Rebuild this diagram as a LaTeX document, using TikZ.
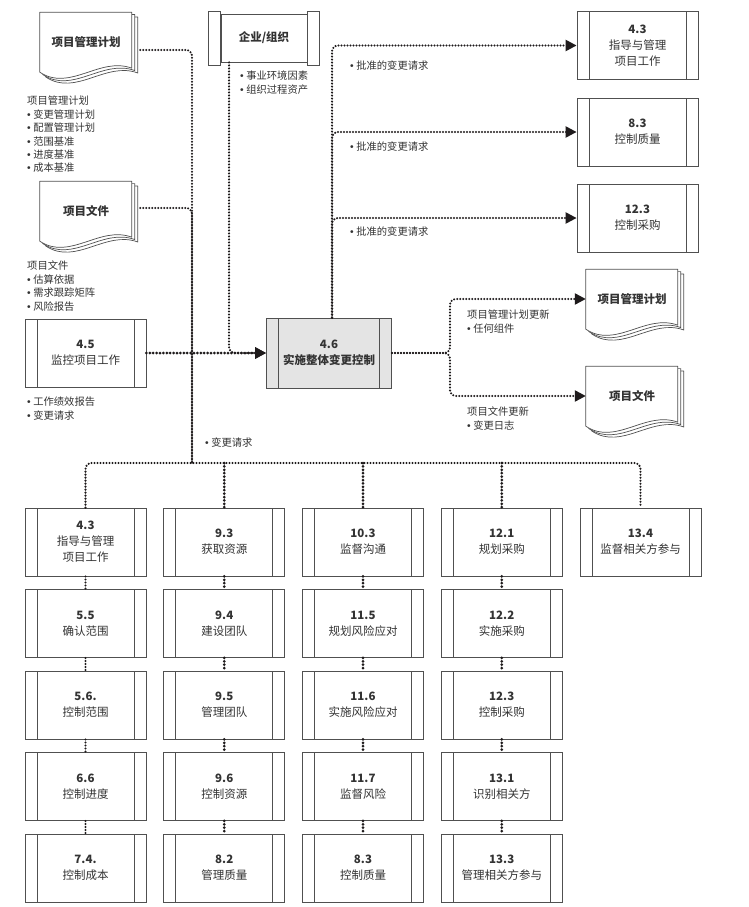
\documentclass[tikz,border=0pt]{standalone}
\usepackage{fontspec}
\setmainfont{Noto Sans CJK SC}
\newfontfamily\latinfont{Liberation Sans}
\usepackage{tikz}
\usetikzlibrary{positioning, arrows.meta, backgrounds}
\definecolor{inkGrey}{RGB}{51,51,51}
\definecolor{lineGrey}{RGB}{80,80,80}
\definecolor{dotBlack}{RGB}{30,26,27}
\definecolor{fillGrey}{RGB}{228,228,228}

% small bullet for the lists
\newcommand{\bul}{{\latinfont •}\hspace{2.5pt}}

% stacked sheets behind a document node
\newcommand{\docsheets}[1]{%
  \begin{scope}[on background layer, shift={(#1.south west)}]
    \foreach \s in {6,3,0}
      \draw[docline, shift={(\s,0.8*\s)}] (0,0) -- (0,-60) -- (92,-60) -- (92,-4)
        .. controls (60,-16) and (30,20) .. (0,0) -- cycle;
  \end{scope}}

\begin{document}
\begin{tikzpicture}[x=1pt, y=-1pt,
  proc/.style={draw=lineGrey, line width=0.8pt, fill=white, minimum width=121pt, minimum height=68pt,
    inner sep=0pt, align=center, text=inkGrey, font=\fontsize{11.5}{16}\selectfont,
    path picture={\draw[lineGrey, line width=0.8pt]
      ([xshift=12pt]path picture bounding box.north west) -- ([xshift=12pt]path picture bounding box.south west)
      ([xshift=-12pt]path picture bounding box.north east) -- ([xshift=-12pt]path picture bounding box.south east);}},
  docnode/.style={minimum width=92pt, minimum height=60pt, inner sep=0pt, text=inkGrey,
    font=\fontsize{11.5}{16}\selectfont\bfseries},
  docline/.style={draw=lineGrey, line width=0.7pt, fill=white, line join=round},
  lbl/.style={anchor=north west, inner sep=0pt, align=left, text=inkGrey, font=\fontsize{10.3}{13.4}\selectfont},
  flow/.style={dotBlack, line width=2.3pt, line cap=round, dash pattern=on 0pt off 3pt},
  boldflow/.style={flow, line width=3pt, dash pattern=on 0pt off 3.4pt},
  arrowed/.style={-{Triangle[length=11pt,width=11pt]}}]

\begin{scope}[on background layer]
  \fill[white] (0,0) rectangle (749,907);
\end{scope}
\useasboundingbox (0,0) rectangle (749,907);

% Inputs
\node[docnode] (pmpIn) at (86,42) {项目管理计划};
\docsheets{pmpIn}
\node[lbl] (lblPmp) at (27,96) {项目管理计划\\\bul 变更管理计划\\\bul 配置管理计划\\\bul 范围基准\\\bul 进度基准\\\bul 成本基准};

\node[docnode] (pdIn) at (86,211) {项目文件};
\docsheets{pdIn}
\node[lbl] (lblPd) at (27,261) {项目文件\\\bul 估算依据\\\bul 需求跟踪矩阵\\\bul 风险报告};

\node[proc] (pmc) at (85.5,353) {\textbf{4.5}\\监控项目工作};
\node[lbl] (lblPmc) at (27,397) {\bul 工作绩效报告\\\bul 变更请求};

\node[draw=lineGrey, line width=0.8pt, minimum width=86pt, minimum height=48pt, text=inkGrey,
  font=\fontsize{11.5}{16}\selectfont\bfseries] (org) at (264,38) {企业/组织};
\draw[lineGrey, line width=0.8pt] ([yshift=2pt]org.north west) rectangle ([xshift=-12pt,yshift=-3pt]org.south west);
\draw[lineGrey, line width=0.8pt] ([yshift=2pt]org.north east) rectangle ([xshift=12pt,yshift=-3pt]org.south east);
\node[lbl] (lblOrg) at (240,71) {\bul 事业环境因素\\\bul 组织过程资产};

% Process
\node[proc, fill=fillGrey, minimum width=125pt, minimum height=70pt, font=\fontsize{11.5}{16}\selectfont\bfseries]
  (icc) at (329,353) {4.6\\实施整体变更控制};

% Outputs
\foreach \name/\y/\num/\txt in {rDirect/45.5/4.3/{指导与管理\\项目工作}, rQuality/132/8.3/控制质量, rProcure/218/12.3/控制采购}
  \node[proc] (\name) at (637.5,\y) {\textbf{\num}\\\txt};
\foreach \y in {61,142,227}
  \node[lbl] (lblAcr\y) at (350,\y) {\bul 批准的变更请求};

\node[docnode] (pmpOut) at (632,299) {项目管理计划};
\docsheets{pmpOut}
\node[lbl] (lblPmpUp) at (467,310) {项目管理计划更新\\\bul 任何组件};

\node[docnode] (pdOut) at (632,396) {项目文件};
\docsheets{pdOut}
\node[lbl] (lblPdUp) at (467,407) {项目文件更新\\\bul 变更日志};

% Related processes
\foreach \c/\r/\num/\txt in {1/1/4.3/{指导与管理\\项目工作}, 1/2/5.5/确认范围, 1/3/5.6./控制范围, 1/4/6.6/控制进度, 1/5/7.4./控制成本,
    2/1/9.3/获取资源, 2/2/9.4/建设团队, 2/3/9.5/管理团队, 2/4/9.6/控制资源, 2/5/8.2/管理质量,
    3/1/10.3/监督沟通, 3/2/11.5/规划风险应对, 3/3/11.6/实施风险应对, 3/4/11.7/监督风险, 3/5/8.3/控制质量,
    4/1/12.1/规划采购, 4/2/12.2/实施采购, 4/3/12.3/控制采购, 4/4/13.1/识别相关方, 4/5/13.3/管理相关方参与,
    5/1/13.4/监督相关方参与}
  \node[proc] (g\c\r) at ({85.5+138.75*(\c-1)}, {542+81.5*(\r-1)}) {\textbf{\num}\\\txt};
\node[lbl] (lblCr) at (205,438) {\bul 变更请求};

% Connectors
\coordinate (bus) at (192,463);
\coordinate (split) at (450,353);
\draw[flow, rounded corners=6pt] ([xshift=8pt,yshift=-8pt]pmpIn.east) -| (bus);
\draw[flow, rounded corners=6pt] ([xshift=8pt,yshift=3pt]pdIn.east) -| (bus);
\draw[flow, arrowed, rounded corners=6pt] ([xshift=-35pt]org.south) |- (icc.west);
\draw[boldflow, arrowed] (pmc) -- (icc);
\foreach \t in {rDirect, rQuality, rProcure}
  \draw[flow, arrowed, rounded corners=6pt] ([xshift=3pt]icc.north) |- (\t.west);
\draw[flow, arrowed, rounded corners=6pt] (icc.east) -- (split) |- (pmpOut.west);
\draw[flow, arrowed, rounded corners=6pt] (icc.east) -- (split) |- (pdOut.west);
\draw[flow, rounded corners=6pt] (g11.north) |- (bus) -| (g51.north);
\foreach \c in {2,3,4}
  \draw[boldflow] (g\c1.north |- bus) -- (g\c1.north);
\foreach \r [count=\n from 2] in {1,...,4} {
  \draw[flow] (g1\r.south) -- (g1\n.north);
  \foreach \c in {2,3,4}
    \draw[boldflow] (g\c\r.south) -- (g\c\n.north);
}
\end{tikzpicture}
\end{document}
